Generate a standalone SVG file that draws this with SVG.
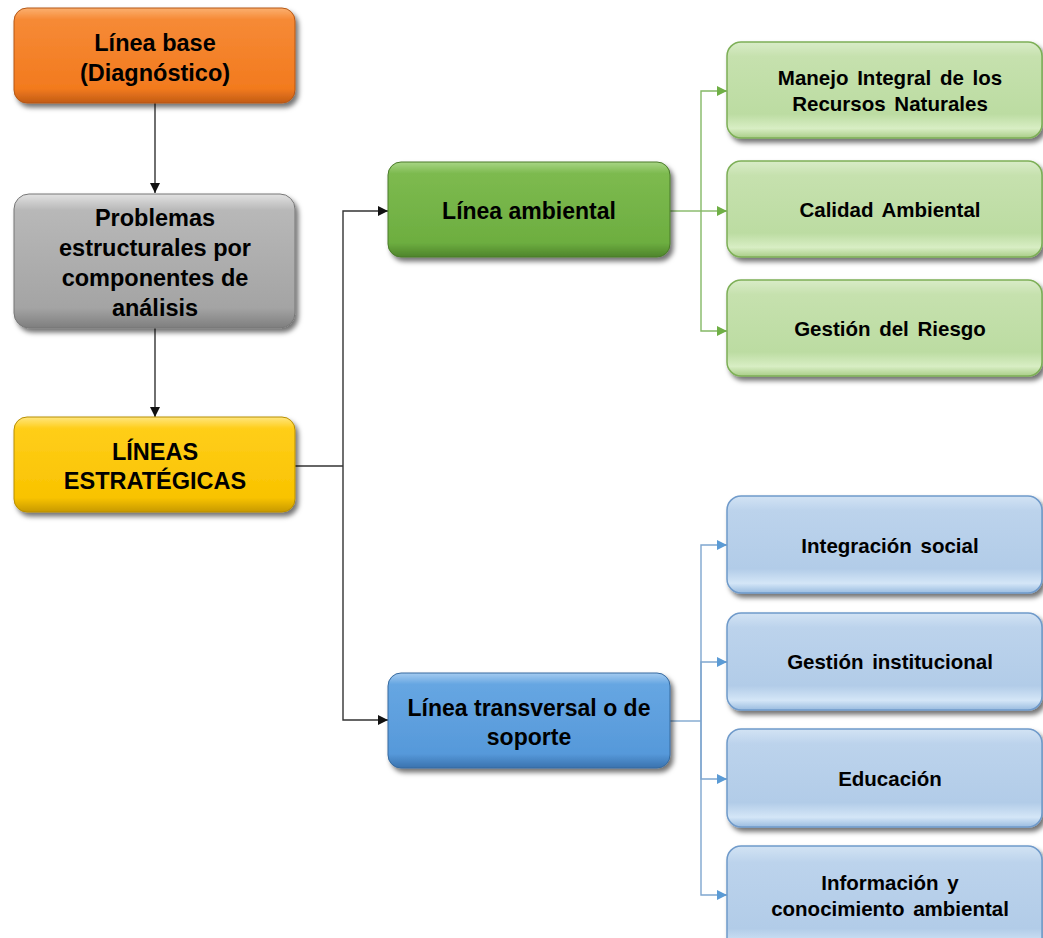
<svg xmlns="http://www.w3.org/2000/svg" width="1043" height="938" viewBox="0 0 1043 938">
<defs>
  <filter id="sh" x="-10%" y="-20%" width="125%" height="150%">
    <feDropShadow dx="3" dy="4" stdDeviation="2.5" flood-color="#000" flood-opacity="0.55"/>
  </filter>
  <linearGradient id="gOrange" x1="0" y1="0" x2="0" y2="1">
    <stop offset="0" stop-color="#FBB070"/><stop offset="0.12" stop-color="#F68A36"/><stop offset="0.85" stop-color="#F27A1E"/><stop offset="1" stop-color="#C25C16"/>
  </linearGradient>
  <linearGradient id="gGray" x1="0" y1="0" x2="0" y2="1">
    <stop offset="0" stop-color="#E2E2E2"/><stop offset="0.12" stop-color="#B8B8B8"/><stop offset="0.85" stop-color="#A4A4A4"/><stop offset="1" stop-color="#7E7E7E"/>
  </linearGradient>
  <linearGradient id="gYellow" x1="0" y1="0" x2="0" y2="1">
    <stop offset="0" stop-color="#FFE680"/><stop offset="0.12" stop-color="#FFCE1A"/><stop offset="0.85" stop-color="#F9C300"/><stop offset="1" stop-color="#C79900"/>
  </linearGradient>
  <linearGradient id="gGreen" x1="0" y1="0" x2="0" y2="1">
    <stop offset="0" stop-color="#A8D585"/><stop offset="0.12" stop-color="#7DBA4F"/><stop offset="0.85" stop-color="#6DAE40"/><stop offset="1" stop-color="#4E842B"/>
  </linearGradient>
  <linearGradient id="gBlue" x1="0" y1="0" x2="0" y2="1">
    <stop offset="0" stop-color="#A4CBF0"/><stop offset="0.12" stop-color="#66A6E2"/><stop offset="0.85" stop-color="#5699DA"/><stop offset="1" stop-color="#3A72AE"/>
  </linearGradient>
  <linearGradient id="gLGreen" x1="0" y1="0" x2="0" y2="1">
    <stop offset="0" stop-color="#D9ECC8"/><stop offset="0.15" stop-color="#C6E1AE"/><stop offset="0.75" stop-color="#BCDCA2"/><stop offset="0.9" stop-color="#D8EEC4"/><stop offset="1" stop-color="#A9CD88"/>
  </linearGradient>
  <linearGradient id="gLBlue" x1="0" y1="0" x2="0" y2="1">
    <stop offset="0" stop-color="#D2E3F4"/><stop offset="0.15" stop-color="#BCD3EC"/><stop offset="0.75" stop-color="#B2CCE8"/><stop offset="0.9" stop-color="#D4E6F7"/><stop offset="1" stop-color="#9ABCE0"/>
  </linearGradient>
  <marker id="aBlack" viewBox="0 0 10 10" refX="10" refY="5" markerWidth="10" markerHeight="10" markerUnits="userSpaceOnUse" orient="auto">
    <path d="M0,0 L10,5 L0,10 z" fill="#111"/>
  </marker>
  <marker id="aGreen" viewBox="0 0 10 10" refX="10" refY="5" markerWidth="10" markerHeight="10" markerUnits="userSpaceOnUse" orient="auto">
    <path d="M0,0 L10,5 L0,10 z" fill="#6FAF45"/>
  </marker>
  <marker id="aBlue" viewBox="0 0 10 10" refX="10" refY="5" markerWidth="10" markerHeight="10" markerUnits="userSpaceOnUse" orient="auto">
    <path d="M0,0 L10,5 L0,10 z" fill="#5B9BD5"/>
  </marker>
  <style>
    text { font-family: "Liberation Sans", Arial, sans-serif; font-weight: bold; fill: #000; text-anchor: middle; }
    .big { font-size: 23.5px; }
    .mid { font-size: 23px; }
    .sm { font-size: 20.5px; word-spacing: 3px; }
    .box { filter: url(#sh); }
    .cK { stroke: #333; stroke-width: 1.4; fill: none; }
    .cG { stroke: #84B865; stroke-width: 1.4; fill: none; }
    .cB { stroke: #7FA6CF; stroke-width: 1.4; fill: none; }
  </style>
</defs>

<g id="connectors">
  <line class="cK" x1="155" y1="103" x2="155" y2="193" marker-end="url(#aBlack)"/>
  <line class="cK" x1="155" y1="328" x2="155" y2="417" marker-end="url(#aBlack)"/>
  <path class="cK" d="M295,466 H343"/>
  <path class="cK" d="M343,466 V211 H388" marker-end="url(#aBlack)"/>
  <path class="cK" d="M343,466 V720 H388" marker-end="url(#aBlack)"/>
  <path class="cG" d="M670,211 H701"/>
  <path class="cG" d="M701,211 V91 H727" marker-end="url(#aGreen)"/>
  <path class="cG" d="M701,211 H727" marker-end="url(#aGreen)"/>
  <path class="cG" d="M701,211 V331 H727" marker-end="url(#aGreen)"/>
  <path class="cB" d="M670,721 H701"/>
  <path class="cB" d="M701,721 V545 H727" marker-end="url(#aBlue)"/>
  <path class="cB" d="M701,721 V662 H727" marker-end="url(#aBlue)"/>
  <path class="cB" d="M701,721 V779 H727" marker-end="url(#aBlue)"/>
  <path class="cB" d="M701,721 V895 H727" marker-end="url(#aBlue)"/>
</g>

<g id="linea-base">
  <rect class="box" x="14" y="8" width="281" height="95" rx="13" fill="url(#gOrange)" stroke="#B55714" stroke-width="1"/>
  <text class="big" x="155" y="51">Línea base</text>
  <text class="big" x="155" y="81">(Diagnóstico)</text>
</g>

<g id="problemas">
  <rect class="box" x="14" y="194" width="281" height="134" rx="15" fill="url(#gGray)" stroke="#777" stroke-width="1"/>
  <text class="big" x="155" y="226">Problemas</text>
  <text class="big" x="155" y="256">estructurales por</text>
  <text class="big" x="155" y="286">componentes  de</text>
  <text class="big" x="155" y="316">análisis</text>
</g>

<g id="lineas-estrategicas">
  <rect class="box" x="14" y="417" width="281" height="95" rx="13" fill="url(#gYellow)" stroke="#B88E00" stroke-width="1"/>
  <text class="big" x="155" y="460">LÍNEAS</text>
  <text class="big" x="155" y="489">ESTRATÉGICAS</text>
</g>

<g id="linea-ambiental">
  <rect class="box" x="388" y="162" width="282" height="95" rx="13" fill="url(#gGreen)" stroke="#4A7A2A" stroke-width="1"/>
  <text class="mid" x="529" y="219">Línea ambiental</text>
</g>

<g id="linea-transversal">
  <rect class="box" x="388" y="673" width="282" height="95" rx="13" fill="url(#gBlue)" stroke="#366A9F" stroke-width="1"/>
  <text class="mid" x="529" y="716">Línea transversal o de</text>
  <text class="mid" x="529" y="745">soporte</text>
</g>

<g id="manejo-integral">
  <rect class="box" x="727" y="42" width="315" height="96" rx="14" fill="url(#gLGreen)" stroke="#7DAF57" stroke-width="1.5"/>
  <text class="sm" x="890" y="85">Manejo Integral de los</text>
  <text class="sm" x="890" y="111">Recursos Naturales</text>
</g>

<g id="calidad-ambiental">
  <rect class="box" x="727" y="161" width="315" height="96" rx="14" fill="url(#gLGreen)" stroke="#7DAF57" stroke-width="1.5"/>
  <text class="sm" x="890" y="217">Calidad Ambiental</text>
</g>

<g id="gestion-riesgo">
  <rect class="box" x="727" y="280" width="315" height="96" rx="14" fill="url(#gLGreen)" stroke="#7DAF57" stroke-width="1.5"/>
  <text class="sm" x="890" y="336">Gestión del Riesgo</text>
</g>

<g id="integracion-social">
  <rect class="box" x="727" y="496" width="315" height="97" rx="14" fill="url(#gLBlue)" stroke="#6F9ACA" stroke-width="1.5"/>
  <text class="sm" x="890" y="553">Integración social</text>
</g>

<g id="gestion-institucional">
  <rect class="box" x="727" y="613" width="315" height="97" rx="14" fill="url(#gLBlue)" stroke="#6F9ACA" stroke-width="1.5"/>
  <text class="sm" x="890" y="669">Gestión institucional</text>
</g>

<g id="educacion">
  <rect class="box" x="727" y="729" width="315" height="98" rx="14" fill="url(#gLBlue)" stroke="#6F9ACA" stroke-width="1.5"/>
  <text class="sm" x="890" y="786">Educación</text>
</g>

<g id="informacion">
  <rect class="box" x="727" y="846" width="315" height="110" rx="14" fill="url(#gLBlue)" stroke="#6F9ACA" stroke-width="1.5"/>
  <text class="sm" x="890" y="890">Información y</text>
  <text class="sm" x="890" y="916">conocimiento ambiental</text>
</g>
</svg>
